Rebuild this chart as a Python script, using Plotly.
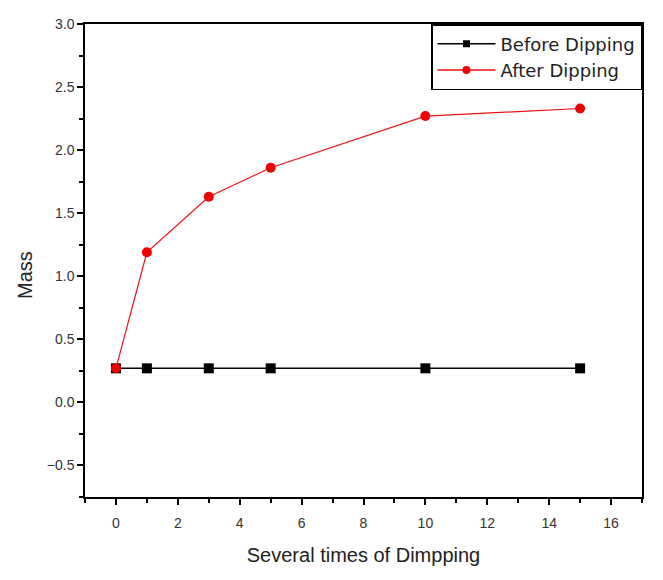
import plotly.graph_objects as go

dips = [0, 1, 3, 5, 10, 15]
mass_before = [0.27, 0.27, 0.27, 0.27, 0.27, 0.27]
mass_after = [0.27, 1.19, 1.63, 1.86, 2.27, 2.33]

fig = go.Figure()
fig.add_trace(go.Scatter(
    x=dips, y=mass_before, mode="lines+markers", name="Before Dipping",
    line=dict(color="black", width=1.5),
    marker=dict(symbol="square", size=10, color="black"),
    showlegend=False,
))
fig.add_trace(go.Scatter(
    x=dips, y=mass_after, mode="lines+markers", name="After Dipping",
    line=dict(color="#ee1111", width=1.2),
    marker=dict(symbol="circle", size=10, color="#ee0000"),
    showlegend=False,
))
# legend entries with the smaller symbols the original legend shows
fig.add_trace(go.Scatter(
    x=[None], y=[None], mode="lines+markers", name="Before Dipping",
    line=dict(color="black", width=1.5),
    marker=dict(symbol="square", size=7, color="black"),
))
fig.add_trace(go.Scatter(
    x=[None], y=[None], mode="lines+markers", name="After Dipping",
    line=dict(color="#ee1111", width=1.5),
    marker=dict(symbol="circle", size=8, color="#ee0000"),
))

axis_common = dict(
    showline=True, linecolor="black", linewidth=1.5, mirror=True,
    ticks="outside", ticklen=6, tickwidth=1.5, tickcolor="black",
    showgrid=False, zeroline=False, automargin=False,
    tickfont=dict(family="Arial, Liberation Sans", size=14, color="#333333"),
)

fig.update_xaxes(
    range=[-1, 17], dtick=2, tick0=0, ticklabelstandoff=6,
    minor=dict(ticks="outside", ticklen=4, dtick=1, tickcolor="black", tickwidth=1.5),
    title=dict(text="Several times of Dimpping", standoff=18,
               font=dict(family="Arial, Liberation Sans", size=20, color="#222222")),
    **axis_common,
)
fig.update_yaxes(
    range=[-0.75, 3.0], dtick=0.5, tick0=0, tickformat=".1f",
    minor=dict(ticks="outside", ticklen=4, dtick=0.25, tickcolor="black", tickwidth=1.5),
    **axis_common,
)

# y title sits a bit below the middle in the original, so place it by hand
fig.add_annotation(
    text="Mass", textangle=-90, showarrow=False,
    xref="paper", yref="paper", x=-0.108, y=0.469,
    xanchor="center", yanchor="middle",
    font=dict(family="Arial, Liberation Sans", size=20, color="#222222"),
)

# page body adds an 8px offset at top-left
fig.update_layout(
    width=655, height=572,
    margin=dict(l=77, r=21, t=16, b=83),
    plot_bgcolor="white", paper_bgcolor="white",
    showlegend=True,
    legend=dict(
        x=1, y=1, xanchor="right", yanchor="top",
        bordercolor="black", borderwidth=1.5, bgcolor="white",
        font=dict(family="DejaVu Sans", size=18, color="#222222"),
        tracegroupgap=0, itemwidth=58,
    ),
)

fig.write_html("out.html")
